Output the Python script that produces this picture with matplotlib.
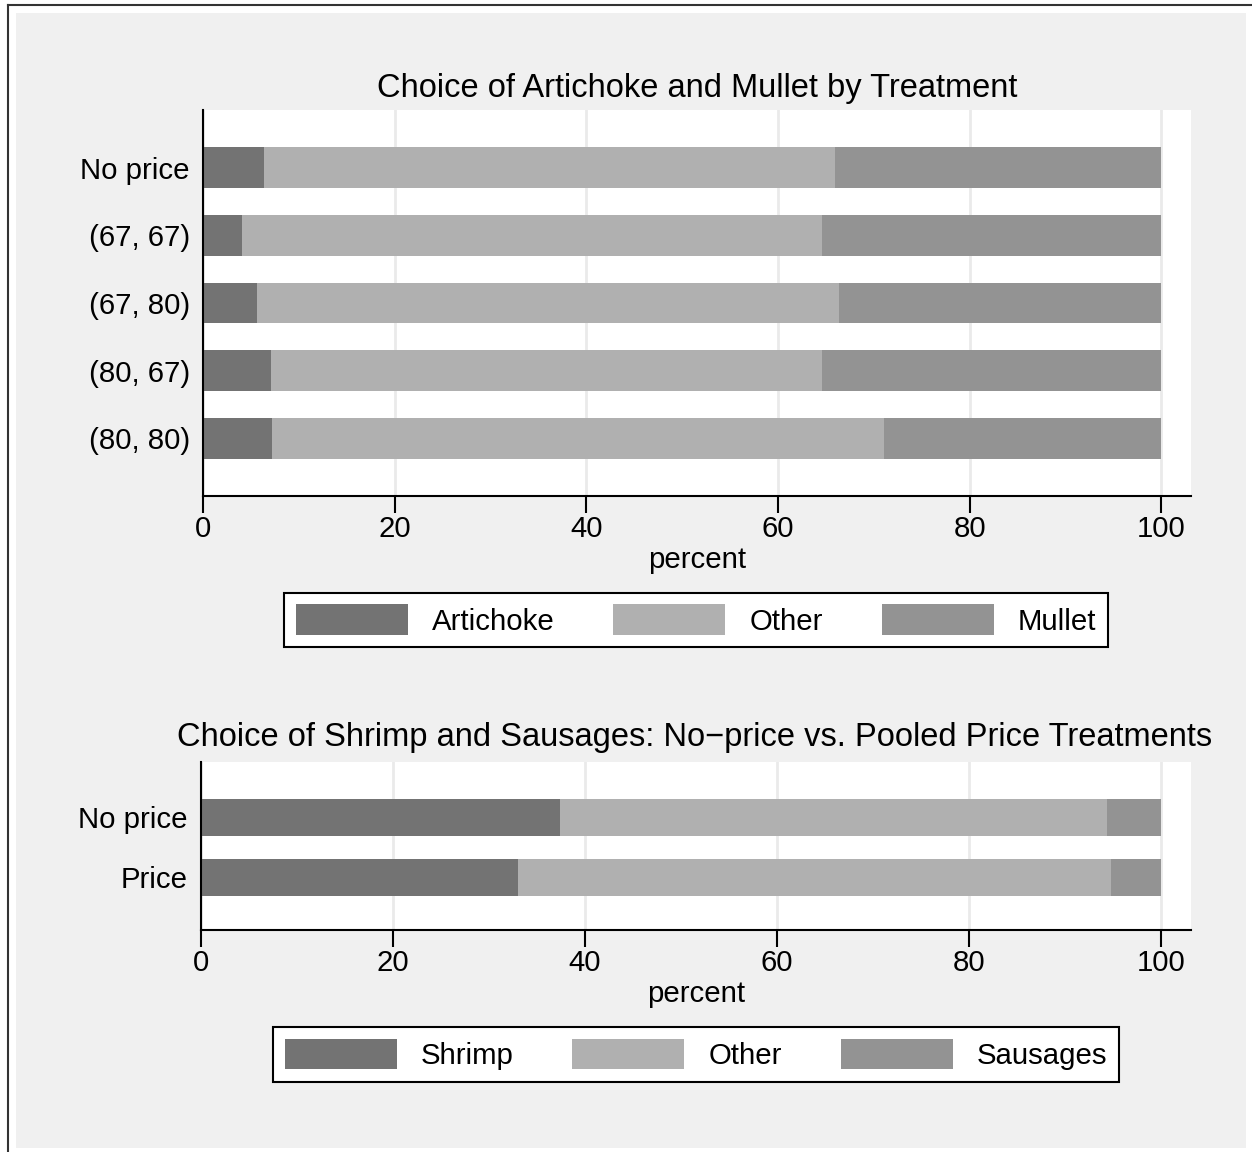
import matplotlib
matplotlib.use('Agg')
import matplotlib.pyplot as plt
from matplotlib.patches import Rectangle
from matplotlib.lines import Line2D

plt.rcParams['font.family'] = ['Liberation Sans', 'DejaVu Sans']

# data (percent)
treatments = ['No price', '(67, 67)', '(67, 80)', '(80, 67)', '(80, 80)']
artichoke = [6.4, 4.1, 5.6, 7.1, 7.2]
other_top = [59.6, 60.5, 60.8, 57.5, 63.9]
mullet = [34.0, 35.4, 33.6, 35.4, 28.9]

groups = ['No price', 'Price']
shrimp = [37.4, 33.0]
other_bottom = [57.0, 61.8]
sausages = [5.6, 5.2]

dark = '#737373'
light = '#b0b0b0'
mid = '#939393'
title_fs = 23.5
fs = 21.2

W, H = 1252, 1152
fig = plt.figure(figsize=(W / 100, H / 100), dpi=100)
fig.patch.set_facecolor('white')

# outer frame: gray panel + dark border lines top/left
fig.patches.append(Rectangle((16 / W, 1 - 1148 / H), (1246 - 16) / W, (1148 - 13) / H,
                             transform=fig.transFigure, facecolor='#f0f0f0',
                             edgecolor='none', zorder=-5))
fig.lines.append(Line2D([7.5 / W, 1], [1 - 4.5 / H, 1 - 4.5 / H],
                        transform=fig.transFigure, color='#333333', lw=1.5, zorder=-4))
fig.lines.append(Line2D([7.5 / W, 7.5 / W], [0, 1 - 4.5 / H],
                        transform=fig.transFigure, color='#333333', lw=1.5, zorder=-4))


def px_axes(left, right, top, bottom):
    return fig.add_axes([left / W, 1 - bottom / H, (right - left) / W, (bottom - top) / H])


def style(ax):
    ax.set_facecolor('white')
    for s in ['top', 'right']:
        ax.spines[s].set_visible(False)
    for s in ['left', 'bottom']:
        ax.spines[s].set_linewidth(1.5)
        ax.spines[s].set_color('black')
    ax.set_xlim(0, 103.1)
    ax.set_xticks([0, 20, 40, 60, 80, 100])
    ax.tick_params(axis='x', length=12, width=1.5, labelsize=fs, pad=1.5)
    ax.tick_params(axis='y', length=0, labelsize=fs, pad=9.4)
    ax.xaxis.grid(True, color='#eaeaea', lw=2)
    ax.set_axisbelow(True)
    ax.set_xlabel('percent', fontsize=fs, labelpad=2)


# top chart
ax1 = px_axes(203, 1191, 110, 496)
style(ax1)
y1 = range(len(treatments))
ax1.barh(y1, artichoke, height=0.6, color=dark, label='Artichoke')
ax1.barh(y1, other_top, left=artichoke, height=0.6, color=light, label='Other')
left2 = [a + o for a, o in zip(artichoke, other_top)]
ax1.barh(y1, mullet, left=left2, height=0.6, color=mid, label='Mullet')
ax1.set_yticks(list(y1))
ax1.set_yticklabels(treatments)
ax1.set_ylim(4.85, -0.85)
fig.text(697 / W, 1 - 97 / H, 'Choice of Artichoke and Mullet by Treatment',
         ha='center', va='baseline', fontsize=title_fs)

# bottom chart
ax2 = px_axes(201, 1191, 762, 930)
style(ax2)
y2 = range(len(groups))
ax2.barh(y2, shrimp, height=0.62, color=dark, label='Shrimp')
ax2.barh(y2, other_bottom, left=shrimp, height=0.62, color=light, label='Other')
left2b = [a + o for a, o in zip(shrimp, other_bottom)]
ax2.barh(y2, sausages, left=left2b, height=0.62, color=mid, label='Sausages')
ax2.set_yticks(list(y2))
ax2.set_yticklabels(groups)
ax2.set_ylim(1.88, -0.92)
fig.text(695 / W, 1 - 746 / H,
         'Choice of Shrimp and Sausages: No\u2212price vs. Pooled Price Treatments',
         ha='center', va='baseline', fontsize=title_fs)

for ax, yc in [(ax1, 620), (ax2, 1054.5)]:
    leg = ax.legend(loc='center', bbox_to_anchor=(696 / W, 1 - yc / H),
                    bbox_transform=fig.transFigure, ncol=3, fontsize=fs,
                    frameon=True, fancybox=False, framealpha=1,
                    handlelength=3.8, handleheight=1.2, handletextpad=0.82,
                    columnspacing=2.0, borderpad=0.4, borderaxespad=0)
    leg.get_frame().set_edgecolor('black')
    leg.get_frame().set_linewidth(1.5)

fig.savefig('out.png', dpi=100)
